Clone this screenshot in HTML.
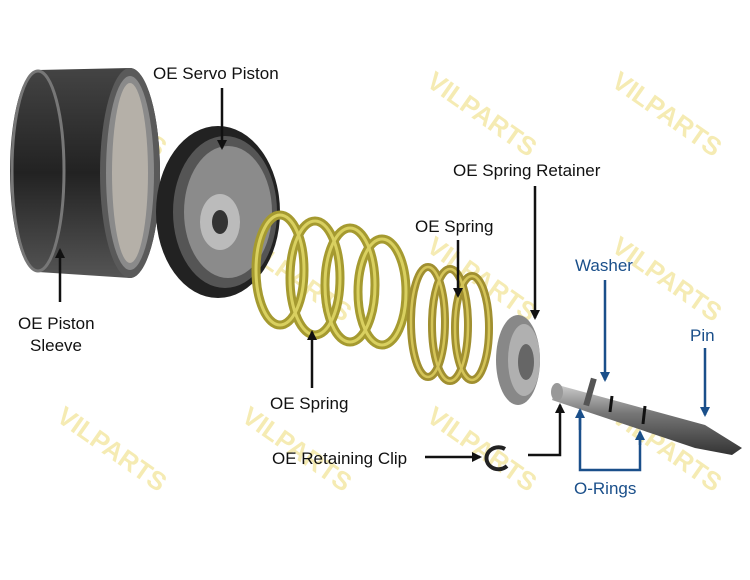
<!DOCTYPE html>
<html><head><meta charset="utf-8"><style>
html,body{margin:0;padding:0;background:#fff}
svg{display:block}
text{font-family:"Liberation Sans",Arial,sans-serif}
</style></head><body>
<svg width="750" height="580" viewBox="0 0 750 580" xmlns="http://www.w3.org/2000/svg">
<defs>
<marker id="ab" markerWidth="10" markerHeight="10" refX="8" refY="5" orient="auto" markerUnits="userSpaceOnUse"><path d="M0,0 L10,5 L0,10 z" fill="#111"/></marker>
<marker id="au" markerWidth="10" markerHeight="10" refX="8" refY="5" orient="auto" markerUnits="userSpaceOnUse"><path d="M0,0 L10,5 L0,10 z" fill="#1a4f8a"/></marker>
<linearGradient id="sl" x1="0" y1="0" x2="0" y2="1"><stop offset="0" stop-color="#444"/><stop offset=".5" stop-color="#222"/><stop offset="1" stop-color="#555"/></linearGradient>
<linearGradient id="pin" x1="0" y1="0" x2="0" y2="1"><stop offset="0" stop-color="#ccc"/><stop offset=".4" stop-color="#777"/><stop offset="1" stop-color="#333"/></linearGradient>
</defs>
<!-- watermarks -->
<g fill="#f3e7a0" font-weight="bold" font-size="26" opacity=".8">
<text transform="translate(55,85) rotate(35)">VILPARTS</text>
<text transform="translate(240,250) rotate(35)">VILPARTS</text>
<text transform="translate(425,85) rotate(35)">VILPARTS</text>
<text transform="translate(610,85) rotate(35)">VILPARTS</text>
<text transform="translate(425,250) rotate(35)">VILPARTS</text>
<text transform="translate(610,250) rotate(35)">VILPARTS</text>
<text transform="translate(55,420) rotate(35)">VILPARTS</text>
<text transform="translate(240,420) rotate(35)">VILPARTS</text>
<text transform="translate(425,420) rotate(35)">VILPARTS</text>
<text transform="translate(610,420) rotate(35)">VILPARTS</text>
</g>
<!-- piston sleeve -->
<path d="M38,70 L130,68 A30,105 0 0 1 130,278 L38,272 A28,101 0 0 1 38,70 z" fill="url(#sl)"/>
<ellipse cx="130" cy="173" rx="30" ry="105" fill="#5a5a5a"/>
<ellipse cx="130" cy="173" rx="24" ry="97" fill="#8a8a8a"/>
<ellipse cx="130" cy="173" rx="18" ry="90" fill="#b5b0a8"/>
<ellipse cx="38" cy="171" rx="26" ry="100" fill="none" stroke="#777" stroke-width="3"/>
<!-- servo piston -->
<ellipse cx="218" cy="212" rx="62" ry="86" fill="#222"/>
<ellipse cx="225" cy="212" rx="52" ry="76" fill="#555"/>
<ellipse cx="228" cy="212" rx="44" ry="66" fill="#8b8b8b"/>
<ellipse cx="220" cy="222" rx="20" ry="28" fill="#bbb"/>
<ellipse cx="220" cy="222" rx="8" ry="12" fill="#333"/>
<!-- big spring -->
<g fill="none" stroke="#a59a30" stroke-width="9">
<ellipse cx="280" cy="270" rx="24" ry="55"/>
<ellipse cx="315" cy="278" rx="25" ry="57"/>
<ellipse cx="350" cy="285" rx="25" ry="57"/>
<ellipse cx="382" cy="292" rx="24" ry="53"/>
</g>
<g fill="none" stroke="#d9d060" stroke-width="3">
<ellipse cx="280" cy="270" rx="24" ry="55"/>
<ellipse cx="315" cy="278" rx="25" ry="57"/>
<ellipse cx="350" cy="285" rx="25" ry="57"/>
<ellipse cx="382" cy="292" rx="24" ry="53"/>
</g>
<!-- small spring -->
<g fill="none" stroke="#a08f30" stroke-width="8">
<ellipse cx="428" cy="322" rx="17" ry="55"/>
<ellipse cx="450" cy="325" rx="18" ry="56"/>
<ellipse cx="472" cy="328" rx="17" ry="52"/>
</g>
<g fill="none" stroke="#d4c458" stroke-width="2.5">
<ellipse cx="428" cy="322" rx="17" ry="55"/>
<ellipse cx="450" cy="325" rx="18" ry="56"/>
<ellipse cx="472" cy="328" rx="17" ry="52"/>
</g>
<!-- retainer -->
<ellipse cx="518" cy="360" rx="22" ry="45" fill="#888"/>
<ellipse cx="524" cy="360" rx="16" ry="36" fill="#b0b0b0"/>
<ellipse cx="526" cy="362" rx="8" ry="18" fill="#666"/>
<!-- clip -->
<path d="M505,449 A12,11 0 1 0 507,466" fill="none" stroke="#222" stroke-width="4"/>
<!-- pin -->
<path d="M558,385 L705,425 L742,448 L732,455 L695,448 L552,400 z" fill="url(#pin)"/>
<ellipse cx="557" cy="392" rx="6" ry="9" fill="#999"/>
<rect x="587" y="378" width="6" height="28" fill="#555" transform="rotate(16 590 392)"/>
<line x1="612" y1="396" x2="610" y2="412" stroke="#111" stroke-width="3"/>
<line x1="645" y1="406" x2="643" y2="424" stroke="#111" stroke-width="3"/>
<!-- labels black -->
<g font-size="17" fill="#111">
<text x="153" y="79">OE Servo Piston</text>
<text x="18" y="329">OE Piston</text>
<text x="30" y="351">Sleeve</text>
<text x="270" y="409">OE Spring</text>
<text x="415" y="232">OE Spring</text>
<text x="453" y="176">OE Spring Retainer</text>
<text x="272" y="464">OE Retaining Clip</text>
</g>
<g stroke="#111" stroke-width="2.5" fill="none">
<line x1="222" y1="88" x2="222" y2="148" marker-end="url(#ab)"/>
<line x1="60" y1="302" x2="60" y2="250" marker-end="url(#ab)"/>
<line x1="312" y1="388" x2="312" y2="332" marker-end="url(#ab)"/>
<line x1="458" y1="240" x2="458" y2="296" marker-end="url(#ab)"/>
<line x1="535" y1="186" x2="535" y2="318" marker-end="url(#ab)"/>
<line x1="425" y1="457" x2="480" y2="457" marker-end="url(#ab)"/>
<polyline points="528,455 560,455 560,405" marker-end="url(#ab)"/>
</g>
<!-- blue -->
<g font-size="17" fill="#1a4f8a">
<text x="575" y="271">Washer</text>
<text x="690" y="341">Pin</text>
<text x="574" y="494">O-Rings</text>
</g>
<g stroke="#1a4f8a" stroke-width="2.5" fill="none">
<line x1="605" y1="280" x2="605" y2="380" marker-end="url(#au)"/>
<line x1="705" y1="348" x2="705" y2="415" marker-end="url(#au)"/>
<polyline points="580,410 580,470 640,470 640,435" />
<line x1="580" y1="430" x2="580" y2="410" marker-end="url(#au)"/>
<line x1="640" y1="445" x2="640" y2="432" marker-end="url(#au)"/>
</g>
</svg>
</body></html>
